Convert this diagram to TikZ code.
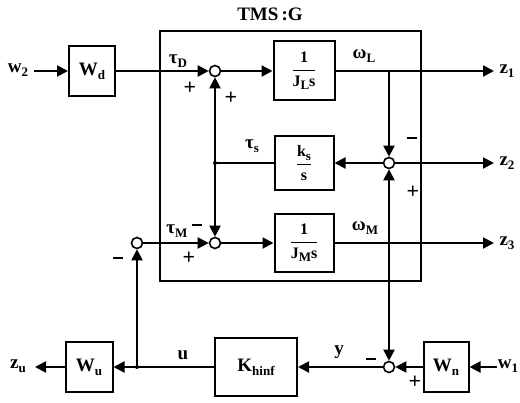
\documentclass[tikz,border=0pt]{standalone}
\usepackage{fontspec}
\setmainfont{Liberation Serif}
\usetikzlibrary{arrows.meta}
\newcommand\sbs[1]{\raisebox{-0.45ex}{\fontsize{13}{14}\selectfont #1}}
\newcommand\frc[2]{$\displaystyle\frac{\hbox{#1}}{\hbox{#2}}$}
\begin{document}
\begin{tikzpicture}[x=1pt,y=-1pt,
  font=\bfseries\fontsize{19}{22}\selectfont,
  line width=2pt,
  blk/.style={draw,rectangle,inner sep=0pt},
  sumc/.style={draw,circle,minimum size=11pt,inner sep=0pt,line width=1.6pt},
  arr/.style={-{Triangle[width=11pt,length=11pt]}},
  dotc/.style={circle,fill,inner sep=0pt,minimum size=4pt},
  sgn/.style={inner sep=0pt,font=\bfseries\fontsize{22}{24}\selectfont},
  mns/.style={inner sep=0pt,minimum width=10pt,minimum height=2.4pt,fill}]
\useasboundingbox (0,0) rectangle (520,403);
% frame
\node[draw,rectangle,minimum width=261pt,minimum height=250pt,inner sep=0pt,line width=1.5pt] (G) at (290.5,156) {};
\node (title) at (270,14) {TMS\,:G};
% blocks
\node[blk,minimum width=46pt,minimum height=50pt] (Wd) at (92,71) {W\sbs{d}};
\node[blk,minimum width=61pt,minimum height=59pt,font=\bfseries\fontsize{16}{18}\selectfont] (JL) at (304,71) {\frc{1}{J\sbs{L}s}};
\node[blk,minimum width=59pt,minimum height=54pt,font=\bfseries\fontsize{16}{18}\selectfont] (ks) at (304,163) {\frc{k\sbs{s}}{s}};
\node[blk,minimum width=59pt,minimum height=58pt,font=\bfseries\fontsize{16}{18}\selectfont] (JM) at (304,243) {\frc{1}{J\sbs{M}s}};
\node[blk,minimum width=82pt,minimum height=58pt] (K) at (256,367) {K\sbs{hinf}};
\node[blk,minimum width=47pt,minimum height=50pt] (Wu) at (89,367) {W\sbs{u}};
\node[blk,minimum width=45pt,minimum height=50pt] (Wn) at (446,367) {W\sbs{n}};
% sums
\node[sumc] (s1) at (215,71) {};
\node[sumc] (s2) at (389,163) {};
\node[sumc] (s3) at (215,243) {};
\node[sumc] (s4) at (389,367) {};
\node[sumc] (s5) at (137,243) {};
% coordinates
\coordinate (w2s) at (34,71);
\coordinate (bL) at (389,71);
\coordinate (z1e) at (494,71);
\coordinate (z2e) at (494,163);
\coordinate (bM) at (389,243);
\coordinate (z3e) at (494,243);
\coordinate (w1s) at (497,367);
\coordinate (zue) at (35,367);
\node[dotc] (ts) at (215,163) {};
\node[dotc] (ud) at (137,367) {};
% text labels
\node (w2) at (18,70) {w\sbs{2}};
\node[inner sep=1pt] (w1) at (508,366) {w\sbs{1}};
\node (z1) at (507,71) {z\sbs{1}};
\node (z2) at (507,163) {z\sbs{2}};
\node (z3) at (507,243) {z\sbs{3}};
\node (zu) at (18,366) {z\sbs{u}};
\node (tD) at (178,61) {τ\sbs{D}};
\node (tS) at (252,146) {τ\sbs{s}};
\node (tM) at (177,231) {τ\sbs{M}};
\node (wL) at (364,56) {ω\sbs{L}};
\node (wM) at (365,228) {ω\sbs{M}};
\node (u) at (183,355) {u};
\node (y) at (339,352) {y};
% signs
\node[sgn] (p1a) at (190,88) {+};
\node[sgn] (p1b) at (231,98) {+};
\node[mns] (m2) at (412,138) {};
\node[sgn] (p2) at (413,192) {+};
\node[mns] (m3) at (197,225) {};
\node[sgn] (p3) at (189,258) {+};
\node[mns] (m4) at (371,359) {};
\node[sgn] (p4) at (415,382) {+};
\node[mns] (m5) at (118,258) {};
% connectors
\draw[arr] (w2s) -- (Wd.west);
\draw[arr] (Wd.east) -- (s1.west);
\draw[arr] (s1.east) -- (JL.west);
\draw (JL.east) -- (bL);
\draw[arr] (bL) -- (z1e);
\draw[arr] (bL) -- (s2.north);
\draw[arr] (s2.west) -- (ks.east);
\draw[arr] (s2.east) -- (z2e);
\draw (ks.west) -- (ts.center);
\draw[arr] (ts.center) -- (s1.south);
\draw[arr] (ts.center) -- (s3.north);
\draw[arr] (s5.east) -- (s3.west);
\draw[arr] (s3.east) -- (JM.west);
\draw (JM.east) -- (bM);
\draw[arr] (bM) -- (z3e);
\draw[arr] (bM) -- (s2.south);
\draw[arr] (bM) -- (s4.north);
\draw[arr] (w1s) -- (Wn.east);
\draw[arr] (Wn.west) -- (s4.east);
\draw[arr] (s4.west) -- (K.east);
\draw (K.west) -- (ud.center);
\draw[arr] (ud.center) -- (Wu.east);
\draw[arr] (ud.center) -- (s5.south);
\draw[arr] (Wu.west) -- (zue);
\end{tikzpicture}
\end{document}
